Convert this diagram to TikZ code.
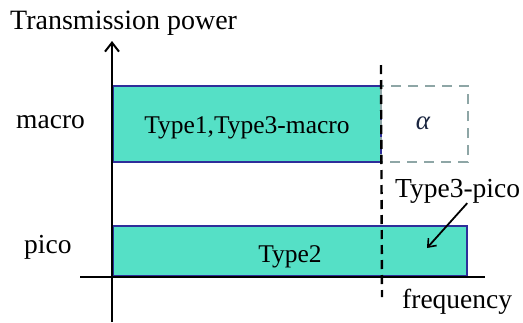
\documentclass[tikz,border=0pt]{standalone}
\usepackage{fontspec}
\setmainfont{Liberation Serif}
\usetikzlibrary{arrows.meta}

\definecolor{bandfill}{HTML}{55E0C6}
\definecolor{bandedge}{HTML}{2E2E9A}
\definecolor{sparegray}{HTML}{8EA6A6}
\definecolor{alphablue}{HTML}{1A2540}

\tikzset{
  band/.style={fill=bandfill, draw=bandedge, line width=1.4pt},
  spare/.style={draw=sparegray, line width=2.4pt, dash pattern=on 10pt off 7pt},
  axis/.style={line width=2.2pt},
  lbl/.style={font=\fontsize{27.5}{30}\selectfont, inner sep=0pt},
  boxlbl/.style={font=\fontsize{25.5}{28}\selectfont, inner sep=0pt}
}

\begin{document}
\begin{tikzpicture}[x=1pt, y=-1pt]
            \useasboundingbox (0,0) rectangle (523,322);

            % Bands
            \draw[band] (113,86) rectangle (381,162);
            \draw[band] (113,226) rectangle (467,276);
            \draw[spare] (381,86) rectangle (468,162);

            % Axes
            \coordinate (ybot) at (112,322);
            \coordinate (ytop) at (112,41);
            \coordinate (xleft) at (80,277);
            \coordinate (xright) at (485,277);
            \draw[axis, -{Straight Barb[length=9pt, width=14pt, line width=2pt]}] (ybot) -- (ytop);
            \draw[axis] (xleft) -- (xright);

            % Split line
            \coordinate (splittop) at (381,65);
            \coordinate (splitbot) at (382,297);
            \draw[line width=2.4pt, dash pattern=on 9pt off 6pt] (splittop) -- (splitbot);

            % Labels
            \node[lbl, font=\fontsize{28}{30}\selectfont, anchor=base west] (power) at (10,29) {Transmission power};
            \node[lbl, anchor=base west] (macro) at (16,128) {macro};
            \node[lbl, anchor=base west] (pico) at (24,253) {pico};
            \node[lbl, anchor=base west] (freq) at (402,308) {frequency};
            \node[boxlbl, anchor=base] (type13) at (247,133) {Type1,Type3-macro};
            \node[boxlbl, anchor=base] (type2) at (290,262) {Type2};
            \node[boxlbl, font=\fontsize{27}{30}\selectfont\itshape, text=alphablue] (alpha) at (423,123) {α};
            \node[lbl, anchor=base west] (type3pico) at (395,197) {Type3-pico};

            % Pointer into the pico band
            \coordinate (picotip) at (427,248);
            \draw[line width=1.8pt, -{Straight Barb[length=7pt, width=11pt, line width=1.6pt]}] (type3pico.south east) ++(-53pt,0pt) -- (picotip);
\end{tikzpicture}
\end{document}
